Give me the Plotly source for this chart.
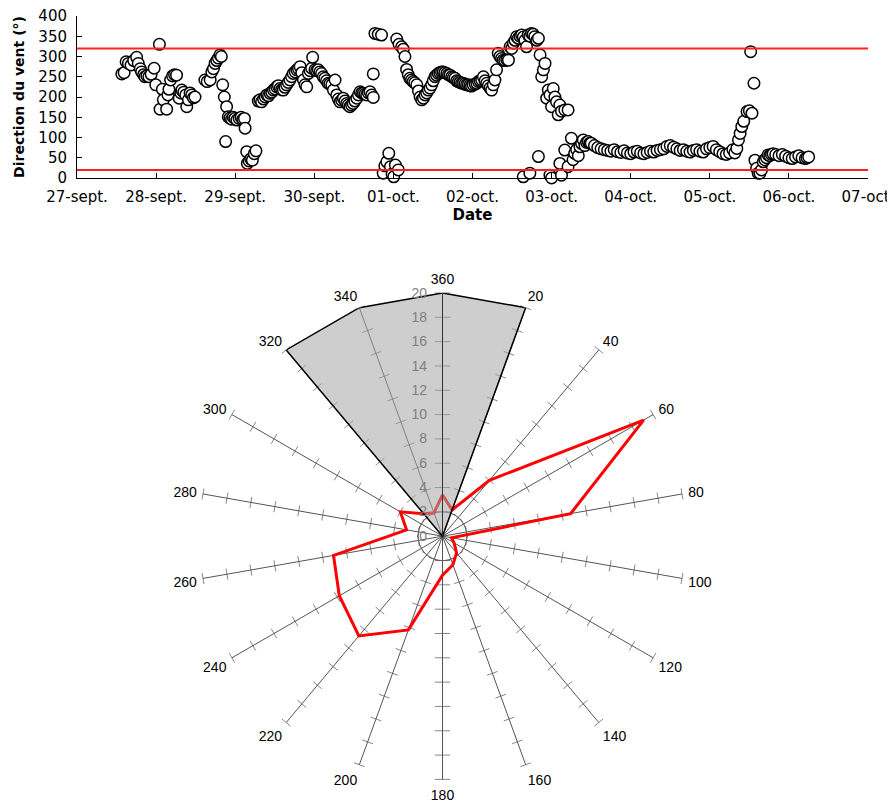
import plotly.graph_objects as go
import pandas as pd

# ---------------- Top chart data: hours since 27-sept 00:00 and wind direction (deg)
hours = [
    13.6, 14.3, 14.9, 15.6, 16.4, 17.2, 18.1, 18.6, 19.2, 19.6, 20.2, 20.6, 21.2, 21.8, 22.5, 23.4, 23.9,
    25.0, 25.2, 25.9, 26.2, 27.2, 27.6, 27.9, 28.4, 29.0, 29.6, 30.2, 31.0, 31.5, 31.8, 32.4, 33.0, 33.3,
    33.8, 34.3, 34.8, 35.3, 35.8,
    38.8, 39.5, 40.4, 40.9, 41.4, 41.9, 42.4, 42.9, 43.4, 43.8,
    44.2, 44.7, 45.1, 45.4, 45.9, 46.4, 46.9, 47.4, 47.9, 48.5, 49.2, 49.8, 50.3, 50.8, 51.0, 51.5, 51.7,
    52.2, 52.7, 53.2, 53.8, 54.3,
    55.0, 55.5, 56.0, 56.6, 57.1, 57.6, 58.1, 58.6, 59.1, 59.6, 60.1, 60.6, 61.1, 61.6, 62.1, 62.6, 63.1,
    63.6, 64.1, 64.6, 65.1, 65.6, 66.2, 66.7, 67.2, 67.7, 68.2, 68.7, 69.2, 69.7, 70.2, 70.7, 71.2, 71.5,
    72.2, 72.7, 73.2, 73.7, 74.2, 74.7, 75.2, 75.7, 76.2, 76.7, 77.3, 77.8, 78.3, 78.8, 79.3, 79.8, 80.3,
    80.8, 81.3, 81.8, 82.3, 82.8, 83.3, 83.8, 84.3, 84.9, 85.4, 85.9, 86.4, 86.9, 87.4, 87.9, 88.4, 88.9,
    89.4, 89.9, 89.9,
    90.4, 91.4, 92.4, 92.9, 93.4, 94.0, 94.6, 95.1, 95.6, 96.1, 96.6, 97.5,
    97.0, 97.7, 98.5, 99.0, 99.5, 100.0, 100.5, 101.0, 101.5, 102.0, 102.5, 103.1, 103.6, 104.1, 104.6,
    105.1, 105.6, 106.1, 106.6, 107.1, 107.6, 108.1, 108.6, 109.1, 109.6, 110.1, 110.6, 111.1, 111.6,
    112.2, 112.7, 113.2, 113.7, 114.2, 114.7, 115.2, 115.7, 116.2, 116.7, 117.2, 117.7, 118.2, 118.7,
    119.2, 119.7, 120.2, 120.8, 121.3, 121.8, 122.3, 122.8, 123.3, 123.8, 124.3, 124.8, 125.3, 125.8,
    126.3, 126.8, 127.3, 127.8, 128.3, 128.8, 129.3, 129.8, 130.4, 130.9,
    131.4, 131.9, 132.4, 132.9, 133.4, 133.9, 134.4, 134.9, 135.4, 135.9, 136.4, 136.9, 137.4, 137.9,
    138.4, 138.9, 139.5, 140.0, 140.5, 141.0, 141.5, 142.0, 142.5, 143.0, 143.5, 144.0, 144.5, 145.0,
    145.5, 146.0, 146.5, 147.0, 148.0, 149.0,
    135.4, 137.4, 140.0, 143.5, 144.0, 146.5, 147.0, 148.0, 149.0, 150.0, 150.5, 151.0, 151.6, 152.1,
    152.6, 153.1, 153.6, 154.1, 154.6, 155.1, 155.6,
    156, 157, 158, 159, 160, 161, 162, 163, 164, 165, 166, 167, 168, 169, 170, 171, 172, 173, 174, 175,
    176, 177, 178, 179, 180, 181, 182, 183, 184, 185, 186, 187, 188, 189, 190, 191, 192, 193, 194, 195,
    196, 197, 198, 199,
    199.6, 200.2, 200.7, 201.2, 201.7, 202.3, 203.3, 204.0, 204.4, 204.8, 205.4, 205.7, 206.2, 206.7,
    207.2, 207.7, 208.2, 208.7, 209.2, 209.7, 210.2, 210.7, 211.2, 212.0, 213.0, 214.0, 215.0, 216.0,
    217.0, 218.0, 219.0, 220.0, 221.0, 221.5, 222.0,
]
direction = [
    257, 260, 287, 283, 279, 290, 298, 283, 270, 262, 255, 250, 252, 250, 256, 271, 230,
    330, 170, 219, 193, 170, 205, 219, 242, 252, 255, 254, 197, 210, 217, 212, 205, 176,
    193, 210, 205, 198, 200,
    242, 238, 242, 262, 270, 283, 290, 296, 304, 300,
    230, 200, 90, 176, 151, 148, 145, 150, 147, 143, 147, 150, 145, 147, 123, 65, 36,
    42, 47, 44, 60, 67,
    190, 193, 188, 195, 200, 205, 203, 209, 212, 217, 220, 225, 228, 221, 218, 217, 224,
    230, 236, 242, 250, 258, 262, 267, 270, 275, 260, 242, 230, 225, 258, 265, 271, 298,
    267, 265, 267, 262, 258, 250, 246, 240, 234, 232, 230, 217, 242, 205, 195, 188, 192,
    197, 190, 184, 180, 176, 180, 184, 190, 197, 205, 213, 210, 209, 207, 205, 210, 213,
    205, 199, 257,
    357, 355, 353, 12, 30, 40, 61, 28, 10, 3, 32, 20,
    343, 330, 324, 318, 300, 268, 255, 246, 242, 238, 235, 230, 215, 200, 193,
    197, 205, 210, 217, 222, 230, 240, 250, 254, 258, 260, 262, 262, 260,
    258, 255, 254, 250, 248, 246, 240, 238, 236, 234, 234, 232, 230, 230,
    228, 227, 230, 232, 234, 238, 240, 242, 250, 240, 234, 228, 222, 217,
    230, 242, 267, 308, 300, 295, 291, 290, 292, 291,
    324, 320, 333, 340, 349, 345, 350, 353, 348, 340, 324, 353, 350, 357,
    355, 349, 340, 345, 304, 250, 267, 283, 197, 217, 205, 176, 221, 200,
    188, 156, 180, 165, 168, 168,
    3, 12, 53, 7, 0, 36, 7, 69, 28, 98, 45, 61, 70, 55,
    77, 85, 94, 80, 88, 90, 86,
    86, 80, 75, 72, 70, 68, 66, 70, 65, 63, 67, 62, 60, 64, 66, 62, 60, 63, 66, 64,
    68, 70, 72, 78, 80, 76, 72, 68, 70, 66, 64, 68, 70, 66, 64, 72, 75, 78, 70, 65,
    60, 58, 62, 70,
    62, 73, 94, 110, 127, 140, 164, 166, 312, 160, 234, 44, 24, 12,
    12, 20, 40, 45, 50, 57, 55, 58, 60, 58, 55, 58, 54, 50,
    48, 52, 55, 50, 48, 50, 52,
]

day_ticks = ["2014-09-27", "2014-09-28", "2014-09-29", "2014-09-30", "2014-10-01", "2014-10-02",
             "2014-10-03", "2014-10-04", "2014-10-05", "2014-10-06", "2014-10-07"]
day_labels = ["27-sept.", "28-sept.", "29-sept.", "30-sept.", "01-oct.", "02-oct.",
              "03-oct.", "04-oct.", "05-oct.", "06-oct.", "07-oct."]
y_ticks = [0, 50, 100, 150, 200, 250, 300, 350, 400]
thresholds = [320, 20]

# ---------------- Wind rose data
rose_dirs = [0, 20, 40, 60, 80, 100, 120, 140, 160, 180, 200, 220, 240, 260, 280, 300, 320, 340]
rose_labels = ["360", "20", "40", "60", "80", "100", "120", "140", "160", "180",
               "200", "220", "240", "260", "280", "300", "320", "340"]
rose_freq = [3.4, 2.3, 6.0, 19.1, 10.7, 0.75, 1.1, 1.8, 2.5, 3.2,
             8.2, 10.7, 9.8, 9.1, 3.0, 4.0, 2.4, 2.05]
sector = [20, 20, 0, 0, 0, 0, 0, 0, 0, 0, 0, 0, 0, 0, 0, 0, 20, 20]
radial_ticks = [0, 2, 4, 6, 8, 10, 12, 14, 16, 18, 20]

# ---------------- Layout geometry (page body has an 8px margin)
W, H = 887, 795
OFF = 8
px_x0, px_x1 = 77 - OFF, 868 - OFF      # top chart plot area
px_y_top, px_y_bot = 16 - OFF, 178 - OFF
cx, cy, rad = 442.5 - OFF, 536.2 - OFF, 243.2   # wind rose centre / radius

t0 = pd.Timestamp("2014-09-27")
times = [t0 + pd.Timedelta(hours=h) for h in hours]

fig = go.Figure()

fig.add_trace(go.Scatter(
    x=times, y=direction, mode="markers", xaxis="x", yaxis="y",
    marker=dict(symbol="circle", size=11.5, color="white", line=dict(color="black", width=1.5)),
    hoverinfo="x+y", cliponaxis=False,
))

for th in thresholds:
    fig.add_shape(type="line", xref="x domain", yref="y", x0=0, x1=1, y0=th, y1=th,
                  line=dict(color="#ff2020", width=2), layer="above")

# Polar chart
closed_dirs = rose_dirs + [rose_dirs[0]]
fig.add_trace(go.Scatterpolar(
    r=[2] * 73, theta=[i * 5 for i in range(73)], mode="lines",
    line=dict(color="#707070", width=1), subplot="polar", hoverinfo="skip",
))

tick_theta, tick_r, tick_ang, tick_size = [], [], [], []
for d in rose_dirs:
    for rv in radial_ticks[1:]:
        tick_theta.append(d)
        tick_r.append(rv)
        tick_ang.append(d)
        tick_size.append(11 if d in (0, 180) else 8)
fig.add_trace(go.Scatterpolar(
    r=tick_r, theta=tick_theta, mode="markers", subplot="polar", hoverinfo="skip",
    marker=dict(symbol="line-ew", size=tick_size, angle=tick_ang,
                line=dict(color="#555555", width=1)),
))

fig.add_trace(go.Scatterpolar(
    r=rose_freq + [rose_freq[0]], theta=closed_dirs, mode="lines", subplot="polar",
    line=dict(color="#ff0000", width=3),
))
fig.add_trace(go.Scatterpolar(
    r=sector + [sector[0]], theta=closed_dirs, mode="lines", subplot="polar",
    fill="toself", fillcolor="rgba(165,165,165,0.55)",
    line=dict(color="black", width=1.5),
))

fig.update_layout(
    width=W, height=H,
    margin=dict(l=0, r=0, t=0, b=0, autoexpand=False),
    paper_bgcolor="white", plot_bgcolor="white",
    showlegend=False,
    font=dict(family="DejaVu Sans", color="black"),
    xaxis=dict(
        domain=[px_x0 / W, px_x1 / W], type="date", automargin=False,
        range=[day_ticks[0], day_ticks[-1]],
        tickvals=day_ticks, ticktext=day_labels,
        tickfont=dict(size=15, family="DejaVu Sans"),
        showgrid=False, zeroline=False, showline=True, linecolor="black", linewidth=1,
        ticks="inside", ticklen=5, tickcolor="black", ticklabelstandoff=5,
        ticklabeloverflow="allow",
        title=dict(text="<b>Date</b>", font=dict(size=15), standoff=0),
        anchor="y",
    ),
    yaxis=dict(
        domain=[(H - px_y_bot) / H, (H - px_y_top) / H], automargin=False,
        range=[0, 400], tickvals=y_ticks,
        tickfont=dict(size=15, family="DejaVu Sans"),
        showgrid=False, zeroline=False, showline=True, linecolor="black", linewidth=1,
        ticks="inside", ticklen=5, tickcolor="black", ticklabelstandoff=6,
        ticklabeloverflow="allow",
        title=dict(text="<b>Direction du vent (°)</b>", font=dict(size=14), standoff=10),
        anchor="x",
    ),
    polar=dict(
        domain=dict(x=[(cx - rad) / W, (cx + rad) / W],
                    y=[(H - cy - rad) / H, (H - cy + rad) / H]),
        bgcolor="white",
        angularaxis=dict(
            direction="clockwise", rotation=90,
            tickvals=rose_dirs, ticktext=rose_labels,
            tickfont=dict(size=14, family="Liberation Sans", color="black"),
            showline=False, showgrid=True, gridcolor="#555555", gridwidth=1,
            ticks="outside", ticklen=3, tickcolor="rgba(0,0,0,0)",
        ),
        radialaxis=dict(
            range=[0, 20], tickvals=radial_ticks, angle=90,
            side="counterclockwise",
            tickfont=dict(size=14, family="Liberation Sans", color="#808080"),
            showgrid=False, showline=True, linecolor="#333333", linewidth=1,
            ticks="outside", ticklen=10, tickcolor="rgba(0,0,0,0)", tickangle=90,
        ),
    ),
)

fig.write_html("out.html")
